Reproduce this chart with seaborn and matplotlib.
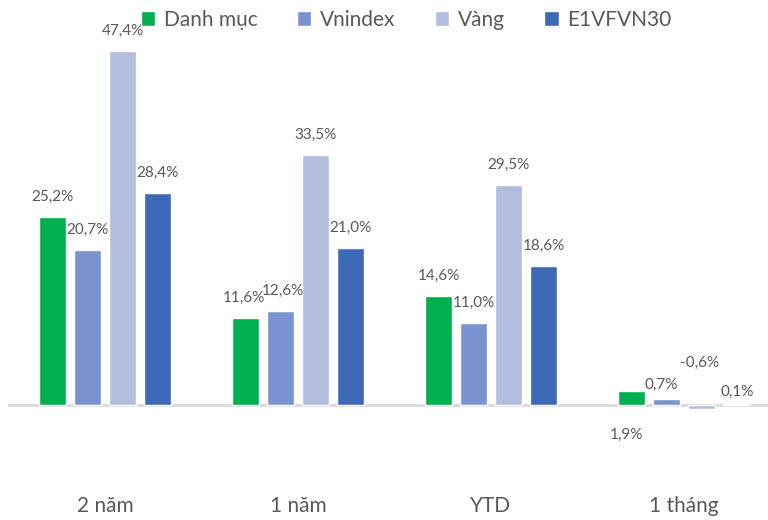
import matplotlib.pyplot as plt
import seaborn as sns
import pandas as pd

periods = ["2 năm", "1 năm", "YTD", "1 tháng"]
series = ["Danh mục", "Vnindex", "Vàng", "E1VFVN30"]
danh_muc = [25.2, 11.6, 14.6, 1.9]
vnindex = [20.7, 12.6, 11.0, 0.7]
vang = [47.4, 33.5, 29.5, -0.6]
e1vfvn30 = [28.4, 21.0, 18.6, 0.1]
colors = ["#00B050", "#7A93D0", "#B3BEDF", "#3D69B8"]

rows = []
for name, vals in zip(series, [danh_muc, vnindex, vang, e1vfvn30]):
    for p, v in zip(periods, vals):
        rows.append({"period": p, "series": name, "value": v})
df = pd.DataFrame(rows)

sns.set_style("white")
plt.rcParams["font.family"] = ["Lato", "DejaVu Sans"]
txt = "#595959"

fig = plt.figure(figsize=(7.68, 5.2), dpi=100)
ax = fig.add_axes([0.011, 0.15, 0.989, 0.789])

sns.barplot(data=df, x="period", y="value", hue="series", order=periods,
            hue_order=series, palette=colors, width=0.725, gap=0.23,
            saturation=1, ax=ax, legend=True)

ax.set_xlim(-0.5, 3.435)
ax.set_ylim(-5, 50)
ax.axhline(0, color="#D9D9D9", lw=2, zorder=0)
sns.despine(ax=ax, left=True, bottom=True)
ax.set_yticks([])
ax.set_xlabel("")
ax.set_ylabel("")
ax.tick_params(axis="x", length=0, pad=39, labelsize=15, labelcolor=txt)

# label offsets (pixels) for the last group, which were placed by hand
special = {0: (-5, -30), 1: (-5, 20), 2: (-2, 42), 3: (1, 13)}
all_vals = [danh_muc, vnindex, vang, e1vfvn30]
for j, cont in enumerate(ax.containers):
    for i, bar in enumerate(cont):
        val = all_vals[j][i]
        x = bar.get_x() + bar.get_width() / 2
        label = f"{val:.1f}".replace(".", ",") + "%"
        if i == 3:
            dx, dy = special[j]
        else:
            dx, dy = 0, 20
            if i == 1 and j in (0, 1):
                dx = -2 if j == 0 else 2
            ax.annotate(label, (x, val), xytext=(dx, dy), textcoords="offset pixels",
                        ha="center", va="center", fontsize=11, color=txt)
            continue
        ax.annotate(label, (x, 0), xytext=(dx, dy), textcoords="offset pixels",
                    ha="center", va="center", fontsize=11, color=txt)

ax.legend(loc="center", bbox_to_anchor=(406 / 768, 1 - 20 / 520),
          bbox_transform=fig.transFigure,
          ncol=4, frameon=False, fontsize=15, handlelength=0.7, handleheight=0.7,
          handletextpad=0.4, columnspacing=1.9, labelcolor=txt)

fig.savefig("out.png", dpi=100)
